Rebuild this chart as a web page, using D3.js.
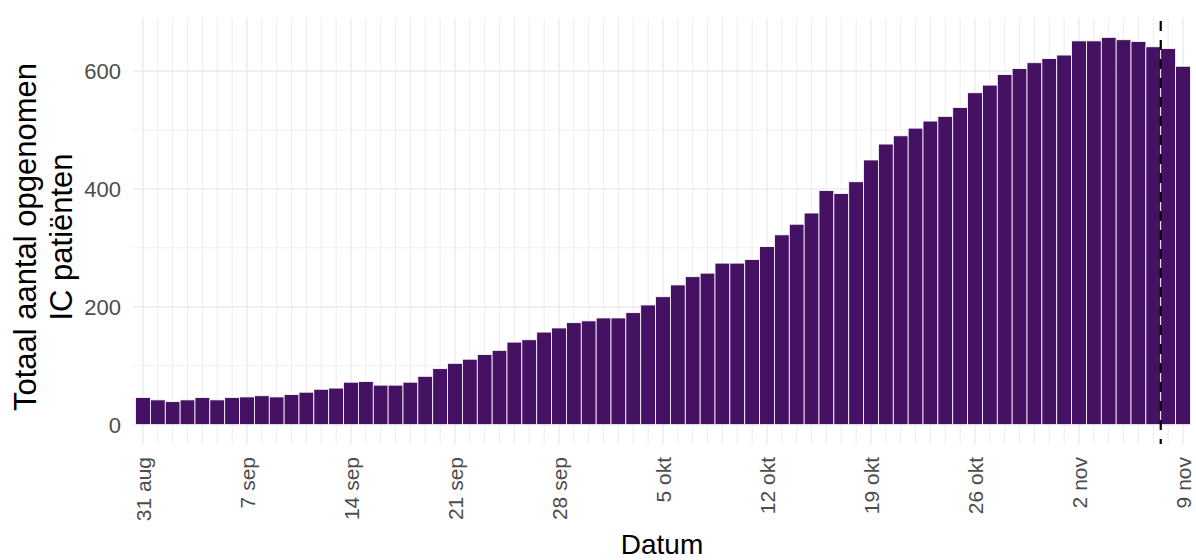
<!DOCTYPE html>
<html>
<head>
<meta charset="utf-8">
<script src="https://cdn.jsdelivr.net/npm/d3@7"></script>
<style>
  body { margin: 0; background: #fff; }
  svg { display: block; }
</style>
</head>
<body>
<div id="chart"></div>
<script>
var width = 1196;
var height = 560;

// panel box in pixels
var panelLeft = 133;
var panelRight = 1191;
var panelTop = 18;
var panelBottom = 444;

// data: one bar per day, starting 31 aug 2020
var startDate = "2020-08-31";
var endDate = "2020-11-09";
var icPatients = [
    46, 42, 39, 42, 46, 42, 46, 47, 49, 47,
    51, 55, 60, 62, 72, 73, 67, 67, 72, 82,
    95, 104, 111, 119, 126, 140, 144, 157, 164, 173,
    176, 181, 181, 190, 203, 217, 237, 251, 257, 274,
    274, 280, 302, 322, 340, 359, 397, 392, 412, 449,
    476, 490, 503, 515, 523, 538, 563, 576, 594, 604,
    614, 621, 627, 651, 651, 657, 653, 650, 641, 638,
    608
];
var tickDates = ["2020-08-31", "2020-09-07", "2020-09-14", "2020-09-21", "2020-09-28",
    "2020-10-05", "2020-10-12", "2020-10-19", "2020-10-26", "2020-11-02", "2020-11-09"];
var tickLabels = ["31 aug", "7 sep", "14 sep", "21 sep", "28 sep",
    "5 okt", "12 okt", "19 okt", "26 okt", "2 nov", "9 nov"];
var yTicks = [0, 200, 400, 600];
var yMinorTicks = [100, 300, 500];
var cutoffDate = "2020-11-07T12:00";

var parseDay = d3.utcParse("%Y-%m-%d");
var parseTime = d3.utcParse("%Y-%m-%dT%H:%M");

var days = d3.utcDay.range(parseDay(startDate), d3.utcDay.offset(parseDay(endDate), 1));
var data = days.map((d, i) => ({date: d, value: icPatients[i]}));

var svg = d3.select("#chart")
    .append("svg")
    .attr("width", width)
    .attr("height", height);

// x: dates as days, bar centred on its date
var dayMs = 24 * 3600 * 1000;
var x = d3.scaleUtc()
    .domain([new Date(+days[0] - 0.672 * dayMs), new Date(+days[days.length - 1] + 0.537 * dayMs)])
    .range([panelLeft, panelRight]);
var dayWidth = x(days[1]) - x(days[0]);

// y: ggplot style 5% expansion
var yMax = d3.max(icPatients);
var y = d3.scaleLinear()
    .domain([-0.05 * yMax, yMax * 1.05])
    .range([panelBottom, panelTop]);

var grid = svg.append("g");

// minor horizontal grid
grid.selectAll(".hminor")
    .data(yMinorTicks)
    .enter().append("line")
    .attr("x1", panelLeft).attr("x2", panelRight)
    .attr("y1", d => y(d)).attr("y2", d => y(d))
    .attr("stroke", "#ededed")
    .attr("stroke-width", 0.8);

// major horizontal grid
grid.selectAll(".hmajor")
    .data(yTicks)
    .enter().append("line")
    .attr("x1", panelLeft).attr("x2", panelRight)
    .attr("y1", d => y(d)).attr("y2", d => y(d))
    .attr("stroke", "#ebebeb")
    .attr("stroke-width", 1.4);

// daily vertical grid (weekly ones a bit stronger)
var weekSet = new Set(tickDates);
var fmtKey = d3.utcFormat("%Y-%m-%d");
grid.selectAll(".vgrid")
    .data(days)
    .enter().append("line")
    .attr("x1", d => x(d)).attr("x2", d => x(d))
    .attr("y1", panelTop).attr("y2", panelBottom)
    .attr("stroke", "#ebebeb")
    .attr("stroke-width", d => weekSet.has(fmtKey(d)) ? 1.4 : 0.9);

// bars
svg.append("g")
    .selectAll("rect")
    .data(data)
    .enter().append("rect")
    .attr("x", d => x(d.date) - dayWidth / 2)
    .attr("width", dayWidth)
    .attr("y", d => y(d.value))
    .attr("height", d => y(0) - y(d.value))
    .attr("fill", "#451263")
    .attr("stroke", "#ffffff")
    .attr("stroke-width", 0.8);

// dashed cut-off line
svg.append("line")
    .attr("x1", x(parseTime(cutoffDate)))
    .attr("x2", x(parseTime(cutoffDate)))
    .attr("y1", panelTop + 3)
    .attr("y2", panelBottom)
    .attr("stroke", "#000")
    .attr("stroke-width", 2.2)
    .attr("stroke-dasharray", "10,9");

// y tick labels
svg.append("g")
    .selectAll("text")
    .data(yTicks)
    .enter().append("text")
    .attr("x", 121)
    .attr("y", d => y(d))
    .attr("dy", "0.36em")
    .style("text-anchor", "end")
    .style("font-family", "Liberation Sans, Arial, sans-serif")
    .style("font-size", "22px")
    .attr("fill", "#4d4d4d")
    .text(d => d);

// x tick labels, rotated
svg.append("g")
    .selectAll("text")
    .data(tickDates)
    .enter().append("text")
    .attr("transform", d => "translate(" + x(parseDay(d)) + "," + 457 + ") rotate(-90)")
    .attr("dy", "0.36em")
    .style("text-anchor", "end")
    .style("font-family", "Liberation Sans, Arial, sans-serif")
    .style("font-size", "21px")
    .attr("fill", "#4d4d4d")
    .text((d, i) => tickLabels[i]);

// axis titles
svg.append("text")
    .attr("x", (panelLeft + panelRight) / 2)
    .attr("y", 554)
    .style("text-anchor", "middle")
    .style("font-family", "Liberation Sans, Arial, sans-serif")
    .style("font-size", "28px")
    .attr("fill", "#000")
    .text("Datum");

var yTitle = svg.append("g")
    .attr("transform", "translate(0,237) rotate(-90)");
yTitle.append("text")
    .attr("x", 0)
    .attr("y", 36)
    .style("text-anchor", "middle")
    .style("font-family", "Liberation Sans, Arial, sans-serif")
    .style("font-size", "31px")
    .attr("fill", "#000")
    .text("Totaal aantal opgenomen");
yTitle.append("text")
    .attr("x", 0)
    .attr("y", 72)
    .style("text-anchor", "middle")
    .style("font-family", "Liberation Sans, Arial, sans-serif")
    .style("font-size", "31px")
    .attr("fill", "#000")
    .text("IC patiënten");
</script>
</body>
</html>
